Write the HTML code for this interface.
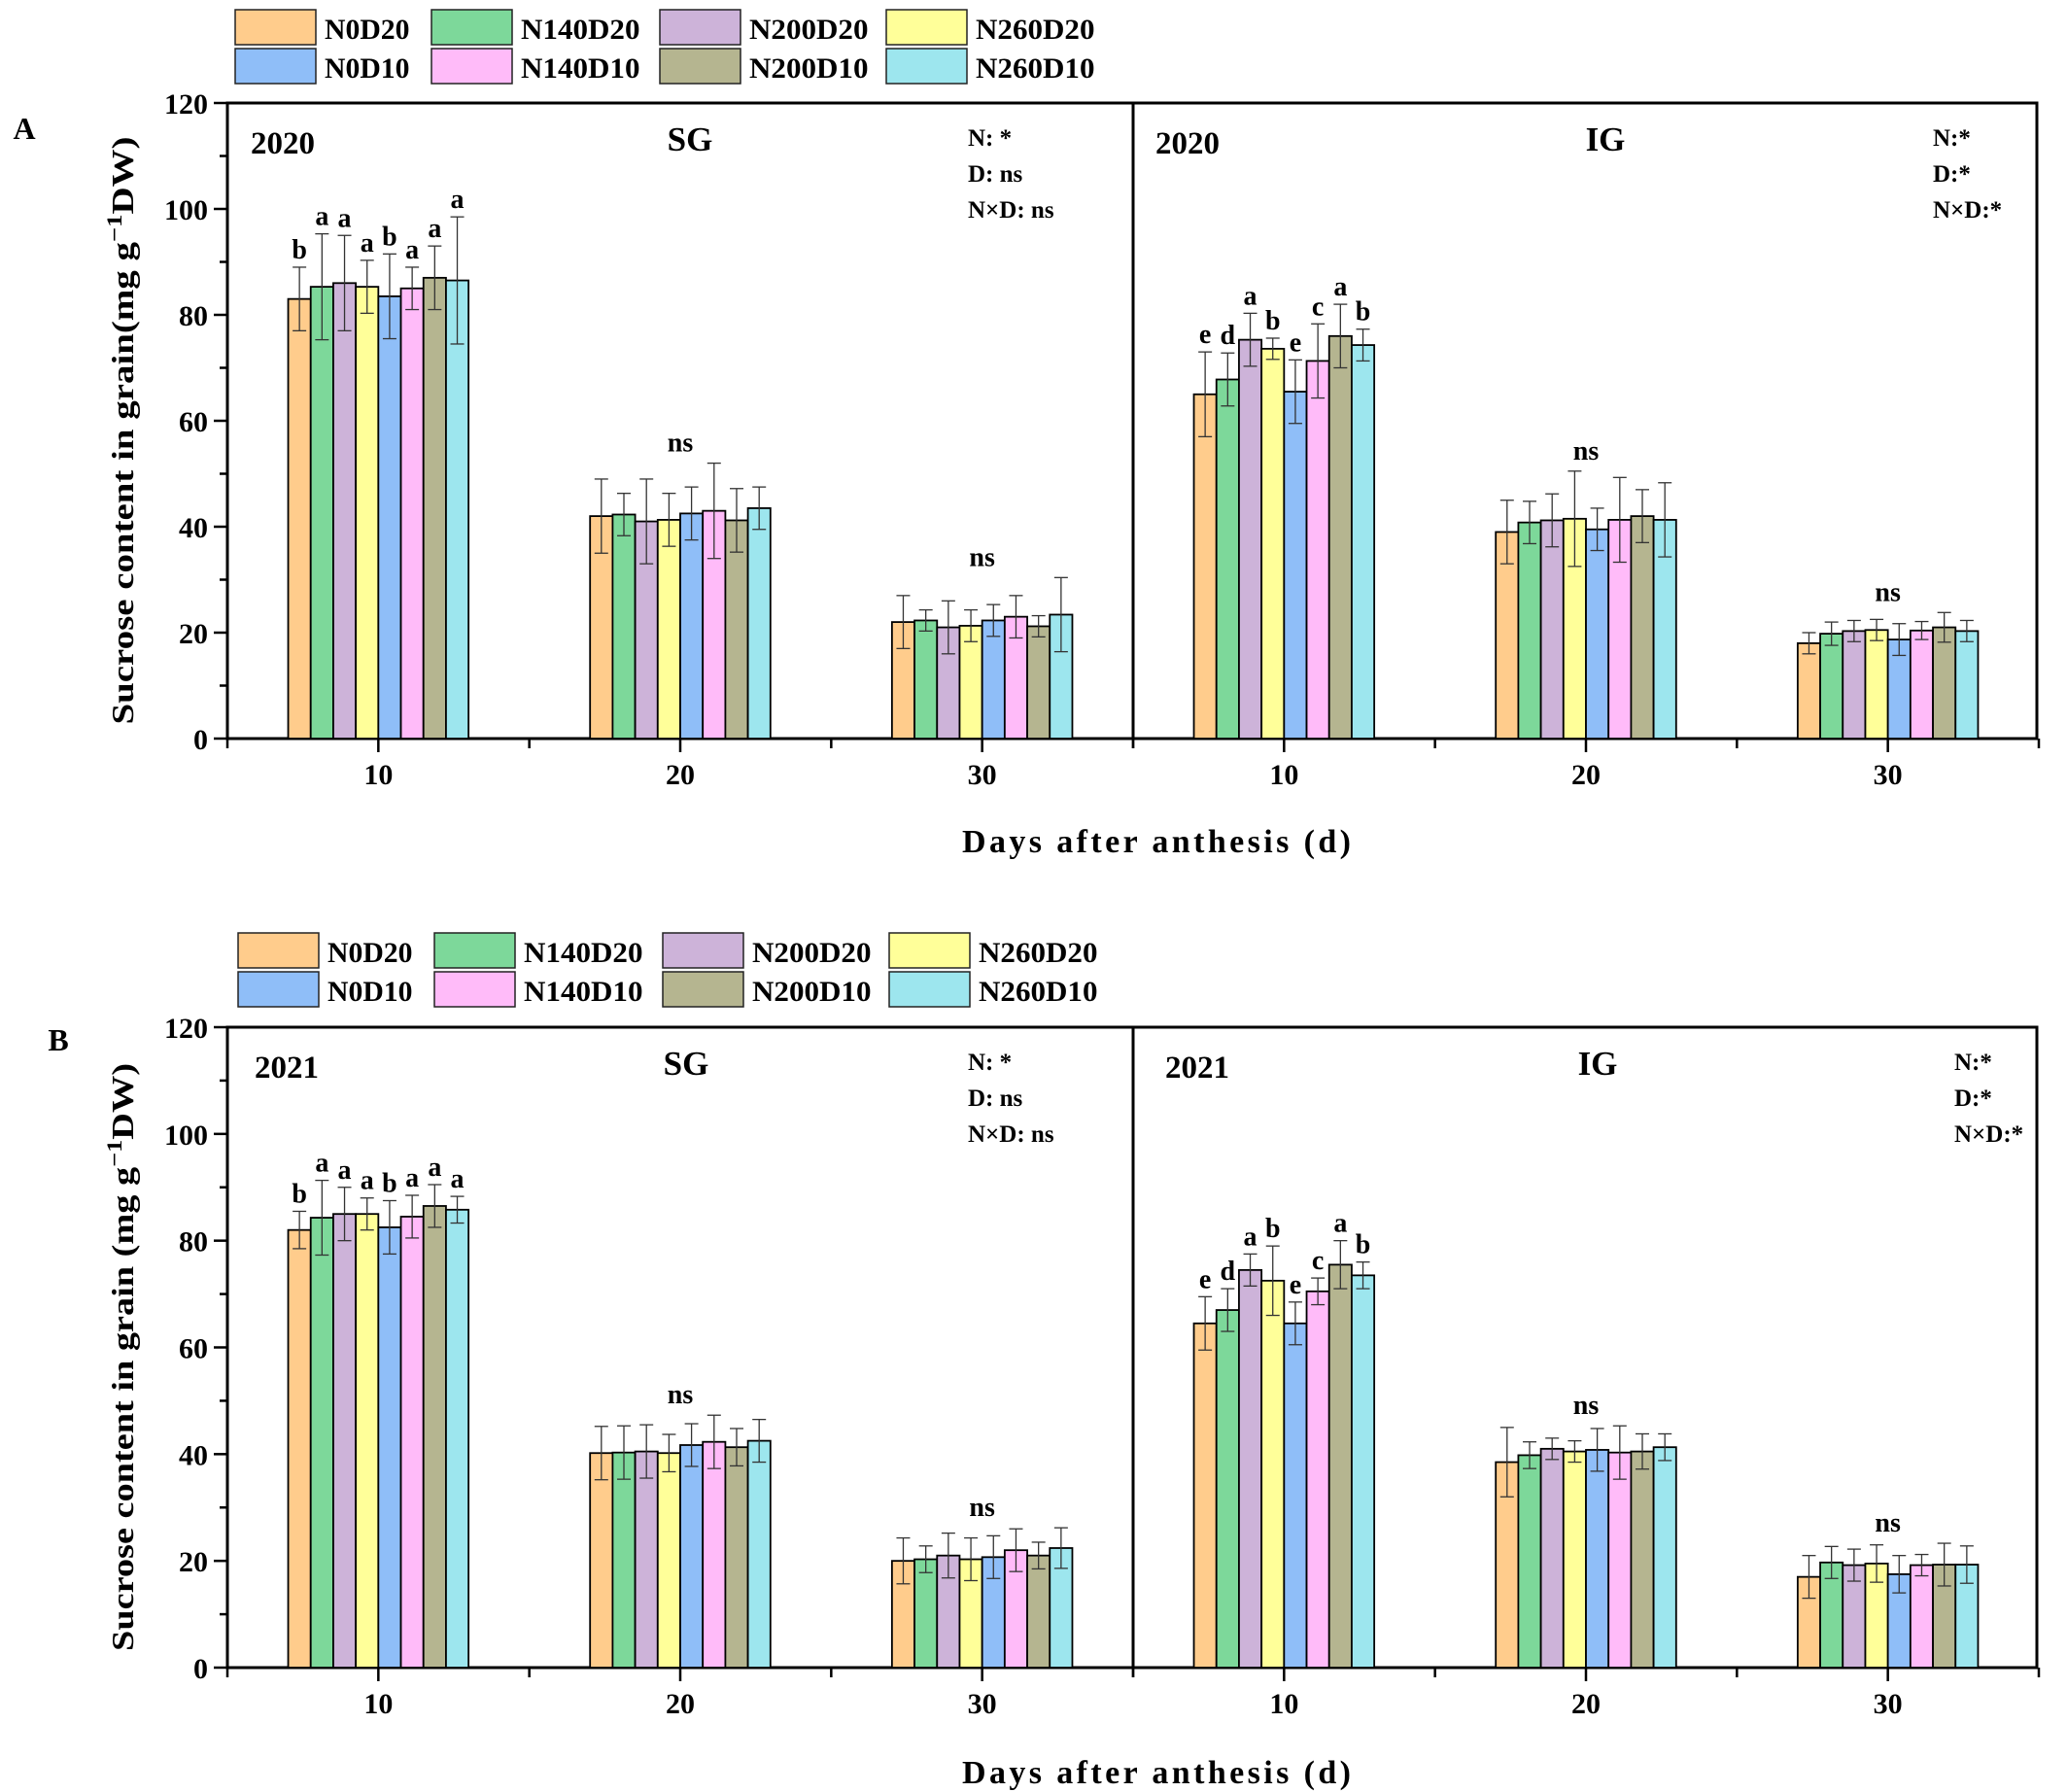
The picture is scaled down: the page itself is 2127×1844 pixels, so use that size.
<!DOCTYPE html>
<html><head><meta charset="utf-8"><style>
html,body{margin:0;padding:0;background:#fff;}
svg{display:block;font-family:"Liberation Serif",serif;font-weight:bold;}
</style></head><body>
<svg id="c" width="2127" height="1844" viewBox="0 0 2127 1844" xmlns="http://www.w3.org/2000/svg"></svg>
<script>
const series = ["N0D20","N140D20","N200D20","N260D20","N0D10","N140D10","N200D10","N260D10"];
const colors = ["#FFCC8C","#7DD89A","#CDB3D9","#FFFF99","#8FBEF8","#FFBBF9","#B5B590","#9DE6EE"];
const days = ["10","20","30"];
const yTicks = [0,20,40,60,80,100,120];
// Panel A 2020
const aSGvals = [[83,85.3,86,85.3,83.5,85,87,86.5],[42,42.3,41,41.3,42.5,43,41.2,43.5],[22,22.3,21,21.3,22.3,23,21.2,23.4]];
const aSGerr = [[6,10,9,5,8,4,6,12],[7,4,8,5,5,9,6,4],[5,2,5,3,3,4,2,7]];
const aIGvals = [[65,67.8,75.3,73.6,65.5,71.3,76,74.3],[39,40.8,41.2,41.5,39.5,41.3,42,41.3],[18,19.8,20.3,20.5,18.7,20.4,21,20.3]];
const aIGerr = [[8,5,5,2,6,7,6,3],[6,4,5,9,4,8,5,7],[2,2.2,2,2,3,1.7,2.8,2]];
// Panel B 2021
const bSGvals = [[82,84.3,85,85,82.5,84.5,86.5,85.8],[40.2,40.3,40.5,40.2,41.7,42.3,41.3,42.5],[20,20.3,21,20.3,20.7,22,21,22.4]];
const bSGerr = [[3.5,7,5,3,5,4,4,2.5],[5,5,5,3.5,4,5,3.5,4],[4.3,2.5,4.2,4,4,4,2.5,3.8]];
const bIGvals = [[64.5,67,74.5,72.5,64.5,70.5,75.5,73.5],[38.5,39.8,41,40.5,40.8,40.3,40.5,41.3],[17,19.7,19.2,19.5,17.5,19.2,19.3,19.3]];
const bIGerr = [[5,4,3,6.5,4,2.5,4.5,2.5],[6.5,2.5,2,2,4,5,3.3,2.5],[4,3,3,3.5,3.5,2,4,3.5]];
const sgLetters = ["b","a","a","a","b","a","a","a"];
const igLetters = ["e","d","a","b","e","c","a","b"];

const NS="http://www.w3.org/2000/svg";
const svg=document.getElementById('c');
function el(tag,attrs,parent){const e=document.createElementNS(NS,tag);for(const k in attrs)e.setAttribute(k,attrs[k]);(parent||svg).appendChild(e);return e;}
function txt(s,x,y,size,anchor,parent){const t=el('text',{x:x,y:y,'font-size':size,'text-anchor':anchor||'start',fill:'#000'},parent);t.textContent=s;return t;}

const L=234, MID=1166, R=2096;
function drawPanel(cfg){
  const g=el('g',{});
  
  
  const y0=cfg.y0, yTop=cfg.yTop;
  const ys=v=>y0-(v/120)*(y0-yTop);
  const lg=el('g',{},g);
  
  
  const colX=[0,202,437,670];
  series.forEach((s,i)=>{
    const ent=el('g',{},lg);
    
    
    const col=i%4,row=Math.floor(i/4);
    const bx=cfg.lx+colX[col], by=cfg.ly+row*40;
    el('rect',{x:bx,y:by,width:83,height:36,fill:colors[i],stroke:'#222','stroke-width':1.5},ent);
    const t=txt(s,bx+92,by+30,30,'start',ent);
    t.setAttribute('textLength', s.length*17.5);
    t.setAttribute('lengthAdjust','spacingAndGlyphs');
  });
  const pl=txt(cfg.letter,cfg.letterX,cfg.letterY,32,'middle',g);
  
  
  el('rect',{x:L,y:yTop,width:R-L,height:y0-yTop,fill:'none',stroke:'#000','stroke-width':3},g);
  el('line',{x1:MID,y1:yTop,x2:MID,y2:y0,stroke:'#000','stroke-width':3},g);
  const ya=el('g',{},g);
  
  
  for(let v=0;v<=120;v+=10){el('line',{x1:L-(v%20==0?14:8),y1:ys(v),x2:L,y2:ys(v),stroke:'#000','stroke-width':2.5},ya);}
  yTicks.forEach(v=>{txt(String(v),214,ys(v)+11,30,'end',ya);});
  const yt=el('text',{transform:`translate(${cfg.ytX},${(y0+yTop)/2+10}) rotate(-90)`,'text-anchor':'middle','font-size':32,textLength:605,lengthAdjust:'spacingAndGlyphs'},g);
  
  
  yt.appendChild(document.createTextNode(cfg.ytitle));
  const sup=el('tspan',{dy:-12,'font-size':22},yt);sup.textContent='\u22121';
  const rest=el('tspan',{dy:12},yt);rest.textContent='DW)';
  const xt=txt('Days after anthesis (d)',1190,cfg.xtY,34,'middle',g);
  xt.setAttribute('textLength',400);
  
  
  cfg.halves.forEach((h,hi)=>{
    const x0=hi==0?L:MID, w=MID-L;
    const hg=el('g',{},g);
    
    
    const xc=i=>x0+w*(2*i+1)/6;
    for(let k=0;k<=3;k++){const xx=x0+w*k/3;el('line',{x1:xx,y1:y0,x2:xx,y2:y0+10,stroke:'#000','stroke-width':2.5},hg);}
    days.forEach((d,i)=>{
      el('line',{x1:xc(i),y1:y0,x2:xc(i),y2:y0+14,stroke:'#000','stroke-width':2.5},hg);
      txt(d,xc(i),y0+47,30,'middle',hg);
      const bw=23.2, gx=xc(i)-bw*4;
      let minTop=1e9;
      h.vals[i].forEach((v,j)=>{
        const bx=gx+j*bw, top=ys(v), e=h.err[i][j];
        const b=el('rect',{x:bx,y:top,width:bw,height:y0-top,fill:colors[j],stroke:'#000','stroke-width':1.8},hg);
        
        
        const cx=bx+bw/2, yu=ys(v+e), yl=ys(v-e);
        el('line',{x1:cx,y1:yu,x2:cx,y2:yl,stroke:'#333','stroke-width':1.3},hg);
        el('line',{x1:cx-7,y1:yu,x2:cx+7,y2:yu,stroke:'#333','stroke-width':1.3},hg);
        el('line',{x1:cx-7,y1:yl,x2:cx+7,y2:yl,stroke:'#333','stroke-width':1.3},hg);
        minTop=Math.min(minTop,yu);
        if(i==0){const lt=txt(h.letters[j],cx,yu-9,28,'middle',hg);
          
          }
      });
      if(i>0){const ns=txt('ns',xc(i),minTop-12,28,'middle',hg);
        
        }
    });
    const yr=txt(cfg.year,h.yearX,cfg.yTop+52,33,'start',hg);
    
    
    const tl=txt(h.title,h.titleX,cfg.yTop+49,35,'middle',hg);
    
    
    h.stats.forEach((s,k)=>{const st=txt(s,h.statX,cfg.yTop+44+k*37,25,'start',hg);
      
      });
  });
}
drawPanel({name:'panel-a',letter:'A',letterX:25,letterY:143,y0:760,yTop:106,lx:242,ly:10,ytX:137,xtY:877,year:'2020',
  ytitle:'Sucrose content in grain(mg g',
  halves:[{name:'chart-2020-sg',vals:aSGvals,err:aSGerr,letters:sgLetters,yearX:258,title:'SG',titleX:710,statX:996,stats:['N: *','D: ns','N×D: ns']},
          {name:'chart-2020-ig',vals:aIGvals,err:aIGerr,letters:igLetters,yearX:1189,title:'IG',titleX:1652,statX:1989,stats:['N:*','D:*','N×D:*']}]});
drawPanel({name:'panel-b',letter:'B',letterX:60,letterY:1081,y0:1716,yTop:1057,lx:245,ly:960,ytX:137,xtY:1835,year:'2021',
  ytitle:'Sucrose content in grain (mg g',
  halves:[{name:'chart-2021-sg',vals:bSGvals,err:bSGerr,letters:sgLetters,yearX:262,title:'SG',titleX:706,statX:996,stats:['N: *','D: ns','N×D: ns']},
          {name:'chart-2021-ig',vals:bIGvals,err:bIGerr,letters:igLetters,yearX:1199,title:'IG',titleX:1644,statX:2011,stats:['N:*','D:*','N×D:*']}]});
</script>
</body></html>
